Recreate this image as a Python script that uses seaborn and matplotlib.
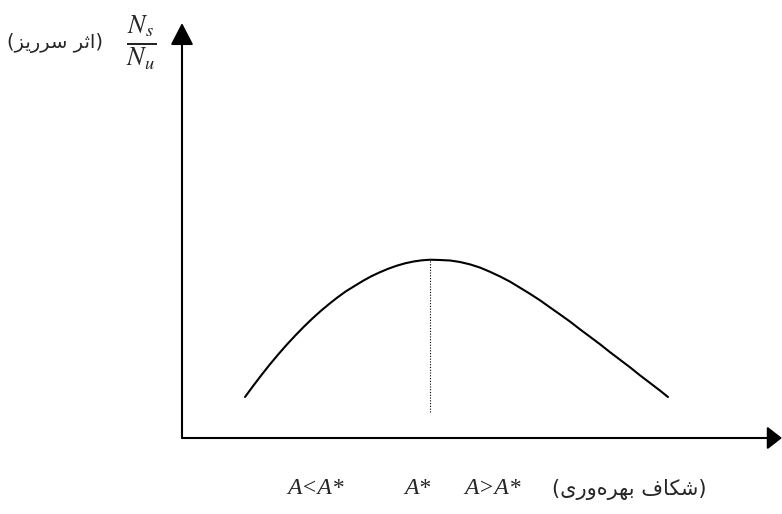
import matplotlib.pyplot as plt
import seaborn as sns
import pandas as pd

# nilai: kurva U terbalik (shkaf bahrevari vs athar sarriz)
gap = [10.5, 11.9, 13.3, 14.7, 16.1, 17.5, 18.9, 20.3, 21.7, 23.1, 24.5, 25.9,
       27.3, 28.8, 30.2, 31.6, 33.0, 34.4, 35.8, 37.2, 38.6, 40.0, 41.4,
       43.0, 44.7, 46.3, 48.0, 49.7, 51.3, 53.0, 54.7, 56.3, 58.0, 59.7, 61.3,
       63.0, 64.7, 66.3, 68.0, 69.7, 71.3, 73.0, 74.7, 76.3, 78.0, 79.7, 81.0]
spill = [9.88, 12.63, 15.28, 17.83, 20.24, 22.55, 24.72, 26.80, 28.75, 30.58,
         32.27, 33.86, 35.33, 36.67, 37.90, 39.01, 39.95, 40.80, 41.52, 42.10,
         42.53, 42.82, 42.96,
         42.89, 42.77, 42.42, 41.84, 41.05, 40.07, 38.93, 37.65, 36.24, 34.74,
         33.15, 31.50, 29.78, 28.02, 26.22, 24.40, 22.56, 20.72, 18.86, 17.00,
         15.14, 13.27, 11.39, 9.88]
peak_gap = [41.3, 41.3]
peak_line = [6.3, 42.9]
tick_pos = [22.3, 39.3, 51.7]
tick_labels = ["A<A*", "A*", "A>A*"]
x_title = "شکاف بهره\u200cوری"
y_title = "اثر سرریز"

# bentuk huruf arab/persia (isolated, final, initial, medial)
FORMS = {
    "ا": ("\uFE8D", "\uFE8E", None, None),
    "ر": ("\uFEAD", "\uFEAE", None, None),
    "ز": ("\uFEAF", "\uFEB0", None, None),
    "و": ("\uFEED", "\uFEEE", None, None),
    "ث": ("\uFE99", "\uFE9A", "\uFE9B", "\uFE9C"),
    "س": ("\uFEB1", "\uFEB2", "\uFEB3", "\uFEB4"),
    "ش": ("\uFEB5", "\uFEB6", "\uFEB7", "\uFEB8"),
    "ک": ("\uFB8E", "\uFB8F", "\uFB90", "\uFB91"),
    "ف": ("\uFED1", "\uFED2", "\uFED3", "\uFED4"),
    "ب": ("\uFE8F", "\uFE90", "\uFE91", "\uFE92"),
    "ه": ("\uFEE9", "\uFEEA", "\uFEEB", "\uFEEC"),
    "ی": ("\uFBFC", "\uFBFD", "\uFBFE", "\uFBFF"),
}


def rtl(txt):
    out = []
    for i, ch in enumerate(txt):
        if ch not in FORMS:
            out.append(ch)
            continue
        prev = txt[i - 1] if i > 0 else ""
        nxt = txt[i + 1] if i + 1 < len(txt) else ""
        jp = prev in FORMS and FORMS[prev][2] is not None
        jn = FORMS[ch][2] is not None and nxt in FORMS
        iso, fin, ini, med = FORMS[ch]
        out.append(med if jp and jn else fin if jp else ini if jn else iso)
    return "(" + "".join(out)[::-1].replace("\u200c", "") + ")"


sns.set_style("white")
plt.rcParams["mathtext.fontset"] = "stix"

fig = plt.figure(figsize=(7.82, 5.14), dpi=100)
ax = fig.add_axes([182 / 782, 76 / 514, 600 / 782, 415 / 514])
ax.set_xlim(0, 100)
ax.set_ylim(0, 100)
for s in ax.spines.values():
    s.set_visible(False)

df = pd.DataFrame({"gap": gap, "spill": spill})
sns.lineplot(data=df, x="gap", y="spill", sort=False, color="black", lw=1.5, ax=ax)
ax.plot(peak_gap, peak_line, color="black", lw=0.8, ls=(0, (1, 1.5)))

# sumbu dengan panah
ax.annotate("", xy=(1, 0), xytext=(0, 0), xycoords="axes fraction",
            arrowprops=dict(arrowstyle="-|>,head_length=0.9,head_width=0.7",
                            color="black", lw=1.5, shrinkA=0, shrinkB=0))
ax.annotate("", xy=(0, 1), xytext=(0, 0), xycoords="axes fraction",
            arrowprops=dict(arrowstyle="-|>,head_length=1.35,head_width=0.7",
                            color="black", lw=1.5, shrinkA=0, shrinkB=0))

ax.set_xticks(tick_pos)
ax.set_xticklabels(tick_labels)
for lab in ax.get_xticklabels():
    lab.set_fontfamily("Liberation Serif")
    lab.set_fontstyle("italic")
    lab.set_fontsize(17)
ax.tick_params(axis="x", length=0, pad=29)
ax.set_yticks([])
ax.set_xlabel("")
ax.set_ylabel("")

ax.text(74.5, -12.3, rtl(x_title), family="DejaVu Sans", fontsize=15,
        ha="center", va="center", clip_on=False)
ax.text(-21.2, 95.2, rtl(y_title), family="DejaVu Sans", fontsize=14,
        ha="center", va="center", clip_on=False)
ax.text(-6.8, 95.4, r"$\frac{N_s}{N_u}$", fontsize=27,
        ha="center", va="center", clip_on=False)

plt.savefig("out.png", dpi=100)
plt.close()
